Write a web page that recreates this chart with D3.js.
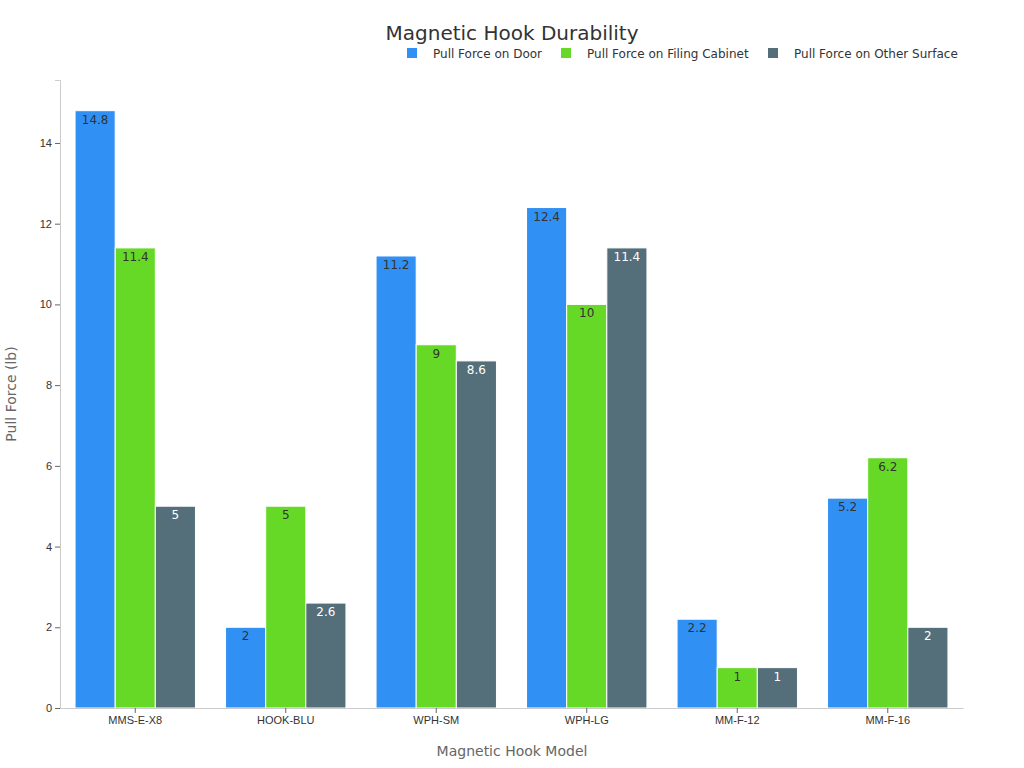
<!DOCTYPE html>
<html>
<head>
<meta charset="utf-8">
<script src="https://cdn.jsdelivr.net/npm/d3@7"></script>
<style>
  body { margin: 0; background: #fff; font-family: "DejaVu Sans", sans-serif; }
</style>
</head>
<body>
<svg id="chart" width="1024" height="768"></svg>
<script>
// data
const models = ["MMS-E-X8", "HOOK-BLU", "WPH-SM", "WPH-LG", "MM-F-12", "MM-F-16"];
const seriesNames = ["Pull Force on Door", "Pull Force on Filing Cabinet", "Pull Force on Other Surface"];
const doorForce = [14.8, 2, 11.2, 12.4, 2.2, 5.2];
const cabinetForce = [11.4, 5, 9, 10, 1, 6.2];
const otherForce = [5, 2.6, 8.6, 11.4, 1, 2];
const yTicks = [0, 2, 4, 6, 8, 10, 12, 14];
const colors = ["#3190f4", "#66d926", "#546e7a"];
const labelColors = ["#333", "#333", "#fff"];

const series = [doorForce, cabinetForce, otherForce];

const svg = d3.select("#chart");
const margin = { left: 60, right: 61, top: 80, bottom: 60 };
const W = 1024, H = 768;

const x = d3.scaleBand().domain(models).range([margin.left, W - margin.right]).paddingInner(0.2).paddingOuter(0.1);
const xInner = d3.scaleBand().domain(d3.range(series.length)).range([0, x.bandwidth()]);
const y = d3.scaleLinear().domain([0, 15.56]).range([H - margin.bottom, margin.top]);

// bars
series.forEach(function(vals, si) {
  const g = svg.append("g");
  g.selectAll("rect").data(vals).join("rect")
    .attr("x", (d, i) => x(models[i]) + xInner(si))
    .attr("y", d => y(d))
    .attr("width", xInner.bandwidth())
    .attr("height", d => y(0) - y(d))
    .attr("fill", colors[si])
    .attr("stroke", "#fff")
    .attr("stroke-width", 1);
  g.selectAll("text").data(vals).join("text")
    .attr("x", (d, i) => x(models[i]) + xInner(si) + xInner.bandwidth() / 2)
    .attr("y", d => y(d) + 13)
    .attr("text-anchor", "middle")
    .attr("font-size", 12)
    .attr("fill", labelColors[si])
    .text(d => d);
});

// axes
const yAxis = svg.append("g").attr("transform", `translate(${margin.left},0)`)
  .call(d3.axisLeft(y).tickValues(yTicks).tickSize(5));
yAxis.select(".domain").attr("stroke", "#ccc");
yAxis.selectAll(".tick line").attr("stroke", "#666");
yAxis.selectAll("text").attr("font-size", 11).attr("fill", "#333");

const xAxis = svg.append("g").attr("transform", `translate(0,${H - margin.bottom})`)
  .call(d3.axisBottom(x).tickSize(5).tickSizeOuter(0));
xAxis.select(".domain").attr("stroke", "#ccc");
xAxis.selectAll(".tick line").attr("stroke", "#666");
xAxis.selectAll("text").attr("font-size", 11).attr("fill", "#333");

// titles
svg.append("text").attr("x", 512).attr("y", 40).attr("text-anchor", "middle")
  .attr("font-size", 20).attr("fill", "#333").text("Magnetic Hook Durability");
svg.append("text").attr("x", 512).attr("y", 756).attr("text-anchor", "middle")
  .attr("font-size", 14).attr("fill", "#666").text("Magnetic Hook Model");
svg.append("text").attr("transform", "translate(16,394) rotate(-90)").attr("text-anchor", "middle")
  .attr("font-size", 14).attr("fill", "#666").text("Pull Force (lb)");

// legend
const legendX = [407, 561, 768];
seriesNames.forEach(function(name, i) {
  svg.append("rect").attr("x", legendX[i]).attr("y", 48).attr("width", 10).attr("height", 10).attr("fill", colors[i]);
  svg.append("text").attr("x", legendX[i] + 26).attr("y", 58).attr("font-size", 12).attr("fill", "#333").text(name);
});
</script>
</body>
</html>
